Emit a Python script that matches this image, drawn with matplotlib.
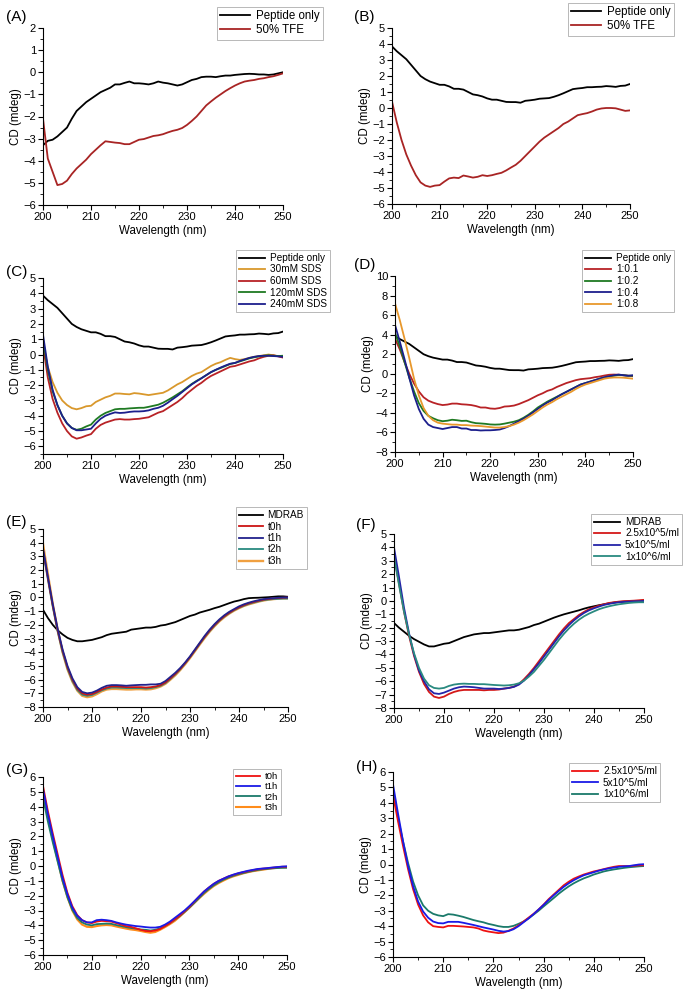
import numpy as np
import matplotlib
matplotlib.use("Agg")
import matplotlib.pyplot as plt
from matplotlib.ticker import MultipleLocator

plt.rcParams['font.family'] = ['Liberation Sans', 'DejaVu Sans']

# wavelength grid (nm), 1 nm steps
wl = np.arange(200, 251)

# ---- panel A ----
a_peptide = [-3.3, -3.1, -3.05, -2.9, -2.7, -2.5, -2.1, -1.75, -1.55, -1.35,
             -1.2, -1.05, -0.9, -0.8, -0.7, -0.55, -0.55, -0.48, -0.42, -0.5,
             -0.5, -0.52, -0.55, -0.5, -0.42, -0.47, -0.5, -0.55, -0.6, -0.55,
             -0.45, -0.35, -0.3, -0.22, -0.2, -0.2, -0.22, -0.18, -0.15, -0.15,
             -0.12, -0.1, -0.08, -0.07, -0.08, -0.1, -0.1, -0.12, -0.1, -0.05,
             0.0]
a_tfe = [-2.1, -3.9, -4.5, -5.1, -5.05, -4.9, -4.6, -4.35, -4.15, -3.95,
         -3.7, -3.5, -3.3, -3.12, -3.15, -3.18, -3.2, -3.25, -3.25, -3.15,
         -3.05, -3.02, -2.95, -2.88, -2.85, -2.8, -2.72, -2.65, -2.6, -2.52,
         -2.38, -2.2, -2.0, -1.75, -1.5, -1.32, -1.15, -1.0, -0.85, -0.72,
         -0.6, -0.5, -0.42, -0.38, -0.35, -0.3, -0.27, -0.22, -0.18, -0.12,
         -0.05]

# ---- peptide only (panels B, C, D) ----
peptide_only = [3.85, 3.55, 3.3, 3.05, 2.7, 2.35, 2.0, 1.8, 1.65, 1.55,
                1.45, 1.45, 1.35, 1.2, 1.2, 1.15, 1.0, 0.85, 0.8, 0.72,
                0.6, 0.52, 0.52, 0.45, 0.38, 0.37, 0.37, 0.33, 0.45, 0.48,
                0.52, 0.58, 0.6, 0.62, 0.7, 0.8, 0.92, 1.05, 1.18, 1.22,
                1.25, 1.3, 1.3, 1.32, 1.33, 1.37, 1.35, 1.32, 1.38, 1.4,
                1.5]
b_tfe = [0.4, -0.9, -2.0, -2.9, -3.6, -4.2, -4.65, -4.85, -4.93, -4.85,
         -4.82, -4.6, -4.4, -4.35, -4.38, -4.22, -4.28, -4.35, -4.3, -4.2,
         -4.25, -4.2, -4.12, -4.05, -3.9, -3.72, -3.55, -3.3, -3.0, -2.7,
         -2.4, -2.1, -1.85, -1.65, -1.45, -1.25, -1.0, -0.85, -0.65, -0.45,
         -0.38, -0.32, -0.22, -0.1, -0.03, 0.0, 0.0, -0.02, -0.1, -0.18,
         -0.15]

# ---- panel C (SDS) ----
sds30 = [0.7, -0.8, -1.8, -2.5, -3.0, -3.3, -3.5, -3.58, -3.5, -3.38,
         -3.35, -3.1, -2.95, -2.8, -2.7, -2.55, -2.55, -2.58, -2.6, -2.52,
         -2.55, -2.6, -2.65, -2.6, -2.55, -2.5, -2.35, -2.15, -1.95, -1.8,
         -1.6, -1.4, -1.25, -1.15, -0.95, -0.75, -0.6, -0.5, -0.35, -0.22,
         -0.3, -0.35, -0.3, -0.22, -0.15, -0.1, -0.05, 0.0, -0.05, -0.1,
         -0.15]
sds60 = [0.6, -1.5, -2.9, -3.8, -4.5, -5.0, -5.35, -5.5, -5.42, -5.3,
         -5.2, -4.85, -4.6, -4.45, -4.35, -4.25, -4.22, -4.25, -4.25, -4.22,
         -4.2, -4.15, -4.1, -3.95, -3.8, -3.7, -3.5, -3.3, -3.1, -2.85,
         -2.55, -2.3, -2.05, -1.85, -1.6, -1.4, -1.25, -1.1, -0.95, -0.8,
         -0.75, -0.65, -0.55, -0.45, -0.38, -0.25, -0.15, -0.08, -0.05, -0.12,
         -0.2]
sds120 = [1.0, -1.0, -2.4, -3.3, -4.0, -4.5, -4.8, -4.92, -4.85, -4.7,
          -4.58, -4.25, -4.0, -3.82, -3.7, -3.58, -3.55, -3.55, -3.52, -3.5,
          -3.48, -3.48, -3.42, -3.35, -3.28, -3.15, -2.98, -2.8, -2.6, -2.4,
          -2.15, -1.92, -1.72, -1.55, -1.35, -1.15, -1.0, -0.88, -0.75, -0.62,
          -0.55, -0.45, -0.35, -0.25, -0.18, -0.12, -0.08, -0.05, -0.08, -0.1,
          -0.08]
sds240 = [1.3, -0.8, -2.3, -3.3, -4.0, -4.5, -4.8, -4.95, -4.95, -4.9,
          -4.85, -4.5, -4.2, -4.0, -3.88, -3.78, -3.82, -3.8, -3.75, -3.72,
          -3.72, -3.7, -3.65, -3.55, -3.48, -3.35, -3.15, -2.92, -2.7, -2.45,
          -2.2, -1.95, -1.75, -1.55, -1.35, -1.15, -1.0, -0.85, -0.72, -0.6,
          -0.55, -0.42, -0.32, -0.22, -0.15, -0.1, -0.08, -0.08, -0.1, -0.12,
          -0.15]

# ---- panel D (ratios) ----
r01 = [3.6, 2.5, 1.2, 0.0, -1.0, -1.8, -2.4, -2.75, -2.95, -3.1,
       -3.2, -3.15, -3.05, -3.05, -3.12, -3.15, -3.2, -3.3, -3.45, -3.45,
       -3.55, -3.58, -3.5, -3.35, -3.32, -3.25, -3.1, -2.9, -2.7, -2.45,
       -2.2, -2.0, -1.75, -1.6, -1.35, -1.15, -0.95, -0.8, -0.65, -0.55,
       -0.5, -0.45, -0.35, -0.28, -0.18, -0.1, -0.08, -0.1, -0.15, -0.2,
       -0.25]
r02 = [4.2, 2.8, 1.2, -0.4, -1.8, -3.0, -3.8, -4.3, -4.55, -4.75,
       -4.85, -4.8, -4.7, -4.75, -4.82, -4.8, -4.95, -5.05, -5.08, -5.12,
       -5.18, -5.2, -5.18, -5.1, -5.0, -4.9, -4.75, -4.5, -4.2, -3.85,
       -3.45, -3.15, -2.85, -2.6, -2.35, -2.1, -1.85, -1.6, -1.35, -1.1,
       -0.95, -0.8, -0.65, -0.5, -0.38, -0.28, -0.2, -0.12, -0.15, -0.2,
       -0.2]
r04 = [5.0, 3.3, 1.5, -0.4, -2.2, -3.6, -4.6, -5.2, -5.45, -5.55,
       -5.65, -5.55, -5.45, -5.45, -5.6, -5.6, -5.75, -5.75, -5.8, -5.78,
       -5.78, -5.75, -5.7, -5.55, -5.35, -5.1, -4.85, -4.6, -4.3, -3.95,
       -3.6, -3.25, -2.95, -2.7, -2.4, -2.1, -1.85, -1.6, -1.35, -1.1,
       -0.95, -0.8, -0.65, -0.5, -0.35, -0.25, -0.15, -0.08, -0.15, -0.2,
       -0.15]
r08 = [7.2, 5.5, 3.6, 1.6, -0.5, -2.2, -3.5, -4.3, -4.75, -5.0,
       -5.1, -5.15, -5.2, -5.2, -5.25, -5.25, -5.3, -5.32, -5.35, -5.4,
       -5.45, -5.5, -5.5, -5.45, -5.35, -5.2, -5.0, -4.75, -4.45, -4.15,
       -3.8, -3.45, -3.15, -2.9, -2.6, -2.35, -2.1, -1.85, -1.55, -1.3,
       -1.1, -0.95, -0.8, -0.65, -0.5, -0.42, -0.38, -0.38, -0.4, -0.45,
       -0.5]

# ---- panel E (MDRAB, time) ----
e_mdrab = [-0.9, -1.5, -2.0, -2.4, -2.7, -2.95, -3.1, -3.2, -3.2, -3.15,
           -3.1, -3.0, -2.9, -2.75, -2.65, -2.6, -2.55, -2.5, -2.35, -2.3,
           -2.25, -2.2, -2.2, -2.15, -2.05, -2.0, -1.9, -1.8, -1.65, -1.5,
           -1.35, -1.25, -1.1, -1.0, -0.9, -0.78, -0.68, -0.55, -0.42, -0.3,
           -0.22, -0.12, -0.05, -0.03, -0.02, 0.0, 0.02, 0.05, 0.08, 0.08,
           0.05]
e_t0 = [3.5, 1.4, -0.6, -2.4, -3.9, -5.1, -6.0, -6.65, -7.0, -7.1,
        -7.05, -6.9, -6.72, -6.58, -6.5, -6.5, -6.52, -6.55, -6.55, -6.55,
        -6.55, -6.58, -6.55, -6.5, -6.4, -6.2, -5.9, -5.58, -5.22, -4.8,
        -4.35, -3.85, -3.35, -2.87, -2.42, -2.02, -1.67, -1.37, -1.12, -0.9,
        -0.72, -0.56, -0.43, -0.33, -0.24, -0.16, -0.11, -0.07, -0.04, -0.02,
        0.0]
e_t1 = [3.6, 1.5, -0.5, -2.3, -3.8, -5.0, -5.9, -6.55, -6.9, -7.0,
        -6.95, -6.8, -6.6, -6.45, -6.4, -6.4, -6.42, -6.45, -6.42, -6.4,
        -6.38, -6.38, -6.35, -6.35, -6.3, -6.1, -5.8, -5.5, -5.15, -4.75,
        -4.3, -3.8, -3.3, -2.8, -2.35, -1.95, -1.6, -1.3, -1.05, -0.85,
        -0.65, -0.5, -0.38, -0.28, -0.2, -0.12, -0.08, -0.05, -0.02, 0.0,
        0.0]
e_t2 = [3.4, 1.3, -0.7, -2.5, -4.0, -5.2, -6.1, -6.75, -7.1, -7.18,
        -7.12, -6.95, -6.78, -6.65, -6.58, -6.58, -6.6, -6.62, -6.62, -6.62,
        -6.62, -6.65, -6.62, -6.55, -6.45, -6.25, -5.95, -5.62, -5.25, -4.82,
        -4.37, -3.88, -3.38, -2.9, -2.46, -2.06, -1.7, -1.4, -1.15, -0.93,
        -0.75, -0.6, -0.47, -0.37, -0.28, -0.2, -0.15, -0.12, -0.1, -0.08,
        -0.08]
e_t3 = [3.9, 1.7, -0.5, -2.4, -4.0, -5.25, -6.15, -6.8, -7.18, -7.28,
        -7.22, -7.05, -6.85, -6.72, -6.68, -6.68, -6.7, -6.72, -6.72, -6.7,
        -6.7, -6.72, -6.7, -6.62, -6.5, -6.3, -6.0, -5.68, -5.3, -4.88,
        -4.42, -3.93, -3.43, -2.95, -2.5, -2.1, -1.74, -1.44, -1.18, -0.96,
        -0.78, -0.62, -0.5, -0.4, -0.3, -0.22, -0.16, -0.12, -0.09, -0.07,
        -0.06]

# ---- panel F (MDRAB, cell density) ----
f_mdrab = [-1.65, -2.0, -2.3, -2.6, -2.85, -3.05, -3.25, -3.4, -3.4, -3.3,
           -3.2, -3.15, -3.0, -2.85, -2.7, -2.6, -2.5, -2.45, -2.4, -2.4,
           -2.35, -2.3, -2.25, -2.2, -2.2, -2.15, -2.05, -1.95, -1.8, -1.7,
           -1.55, -1.4, -1.25, -1.12, -1.0, -0.9, -0.8, -0.7, -0.58, -0.48,
           -0.4, -0.32, -0.25, -0.18, -0.12, -0.08, -0.05, -0.03, -0.02, 0.0,
           0.02]
f_25e5 = [3.4, 1.3, -0.8, -2.6, -4.1, -5.3, -6.2, -6.8, -7.15, -7.25,
          -7.15, -6.95, -6.8, -6.7, -6.65, -6.65, -6.65, -6.65, -6.68, -6.65,
          -6.65, -6.62, -6.55, -6.5, -6.4, -6.2, -5.85, -5.45, -5.0, -4.5,
          -4.0, -3.5, -3.0, -2.5, -2.05, -1.65, -1.35, -1.05, -0.82, -0.62,
          -0.48, -0.35, -0.25, -0.15, -0.1, -0.05, -0.02, 0.0, 0.02, 0.05,
          0.08]
f_5e5 = [4.0, 1.8, -0.5, -2.4, -4.0, -5.2, -6.0, -6.6, -6.9, -6.95,
         -6.85, -6.7, -6.55, -6.45, -6.4, -6.42, -6.45, -6.5, -6.55, -6.55,
         -6.55, -6.58, -6.55, -6.5, -6.42, -6.25, -5.95, -5.55, -5.1, -4.65,
         -4.15, -3.65, -3.15, -2.65, -2.2, -1.8, -1.45, -1.15, -0.9, -0.7,
         -0.55, -0.42, -0.3, -0.22, -0.15, -0.1, -0.07, -0.05, -0.03, -0.02,
         0.0]
f_1e6 = [3.3, 1.2, -0.8, -2.5, -3.9, -5.0, -5.8, -6.3, -6.5, -6.55,
         -6.5, -6.35, -6.25, -6.2, -6.18, -6.2, -6.2, -6.22, -6.22, -6.25,
         -6.28, -6.3, -6.32, -6.3, -6.25, -6.15, -5.95, -5.65, -5.3, -4.85,
         -4.4, -3.9, -3.4, -2.9, -2.45, -2.05, -1.7, -1.4, -1.15, -0.95,
         -0.78, -0.62, -0.5, -0.4, -0.32, -0.25, -0.2, -0.15, -0.12, -0.1,
         -0.1]

# ---- panel G (time) ----
g_t0 = [5.4, 3.7, 2.2, 0.8, -0.6, -1.8, -2.7, -3.3, -3.65, -3.8,
        -3.85, -3.75, -3.7, -3.72, -3.75, -3.85, -3.95, -4.05, -4.1, -4.2,
        -4.3, -4.38, -4.4, -4.35, -4.25, -4.05, -3.85, -3.6, -3.35, -3.05,
        -2.75, -2.4, -2.05, -1.72, -1.45, -1.2, -1.0, -0.85, -0.7, -0.6,
        -0.5, -0.42, -0.35, -0.28, -0.22, -0.18, -0.15, -0.12, -0.08, -0.05,
        -0.05]
g_t1 = [5.2, 3.5, 2.0, 0.6, -0.8, -1.9, -2.8, -3.35, -3.65, -3.8,
        -3.8, -3.65, -3.62, -3.65, -3.7, -3.8, -3.88, -3.95, -4.0, -4.05,
        -4.08, -4.12, -4.15, -4.15, -4.1, -3.95, -3.75, -3.5, -3.25, -3.0,
        -2.7, -2.38, -2.05, -1.72, -1.45, -1.2, -1.0, -0.85, -0.7, -0.58,
        -0.48, -0.4, -0.32, -0.26, -0.2, -0.17, -0.14, -0.1, -0.07, -0.04,
        -0.02]
g_t2 = [4.6, 3.0, 1.6, 0.3, -1.0, -2.1, -2.95, -3.5, -3.8, -3.95,
        -4.0, -3.92, -3.9, -3.88, -3.9, -3.98, -4.05, -4.12, -4.18, -4.22,
        -4.28, -4.3, -4.35, -4.3, -4.2, -4.05, -3.85, -3.62, -3.38, -3.1,
        -2.8, -2.48, -2.15, -1.82, -1.55, -1.3, -1.1, -0.92, -0.78, -0.66,
        -0.56, -0.48, -0.4, -0.33, -0.27, -0.22, -0.19, -0.16, -0.14, -0.12,
        -0.12]
g_t3 = [5.0, 3.3, 1.8, 0.4, -1.0, -2.1, -3.0, -3.6, -3.95, -4.1,
        -4.12, -4.05, -4.0, -3.98, -4.0, -4.08, -4.15, -4.22, -4.28, -4.32,
        -4.38, -4.45, -4.5, -4.45, -4.3, -4.12, -3.92, -3.7, -3.42, -3.12,
        -2.82, -2.5, -2.18, -1.88, -1.6, -1.35, -1.15, -0.98, -0.82, -0.7,
        -0.6, -0.5, -0.42, -0.35, -0.3, -0.25, -0.2, -0.15, -0.12, -0.1,
        -0.08]

# ---- panel H (cell density) ----
h_25e5 = [4.5, 2.8, 1.2, -0.3, -1.6, -2.6, -3.3, -3.75, -4.0, -4.05,
          -4.08, -3.98, -3.98, -4.0, -4.02, -4.05, -4.08, -4.15, -4.28, -4.35,
          -4.4, -4.45, -4.42, -4.3, -4.15, -3.95, -3.7, -3.45, -3.2, -2.92,
          -2.6, -2.25, -1.95, -1.65, -1.35, -1.12, -0.92, -0.78, -0.65, -0.55,
          -0.45, -0.38, -0.3, -0.22, -0.15, -0.1, -0.1, -0.1, -0.08, -0.05,
          -0.05]
h_5e5 = [5.2, 3.3, 1.5, -0.1, -1.4, -2.4, -3.05, -3.45, -3.7, -3.8,
         -3.82, -3.72, -3.72, -3.72, -3.78, -3.85, -3.92, -4.0, -4.08, -4.15,
         -4.22, -4.3, -4.35, -4.32, -4.2, -4.0, -3.75, -3.5, -3.22, -2.92,
         -2.62, -2.3, -2.0, -1.72, -1.45, -1.22, -1.02, -0.85, -0.7, -0.6,
         -0.5, -0.4, -0.32, -0.25, -0.2, -0.15, -0.12, -0.1, -0.05, 0.0,
         0.02]
h_1e6 = [4.7, 3.0, 1.5, 0.1, -1.1, -2.0, -2.65, -3.0, -3.2, -3.3,
         -3.35, -3.22, -3.25, -3.32, -3.4, -3.5, -3.6, -3.68, -3.75, -3.85,
         -3.92, -4.0, -4.05, -4.05, -3.98, -3.85, -3.7, -3.5, -3.25, -3.0,
         -2.72, -2.45, -2.18, -1.9, -1.65, -1.42, -1.22, -1.05, -0.9, -0.78,
         -0.65, -0.55, -0.45, -0.38, -0.32, -0.27, -0.22, -0.18, -0.15, -0.12,
         -0.1]

W, H = 685, 994
fig = plt.figure(figsize=(W / 100, H / 100), dpi=100)


def make_axes(left, right, top, bottom, ylim, ymajor, label, lx, ly):
    ax = fig.add_axes([left / W, 1 - bottom / H, (right - left) / W, (bottom - top) / H])
    ax.set_xlim(200, 250)
    ax.set_ylim(*ylim)
    ax.xaxis.set_major_locator(MultipleLocator(10))
    ax.xaxis.set_minor_locator(MultipleLocator(5))
    ax.yaxis.set_major_locator(MultipleLocator(ymajor))
    ax.yaxis.set_minor_locator(MultipleLocator(ymajor / 2))
    ax.spines['top'].set_visible(False)
    ax.spines['right'].set_visible(False)
    for s in ('left', 'bottom'):
        ax.spines[s].set_linewidth(0.8)
    ax.tick_params(which='major', length=3.5, width=0.8, labelsize=8, pad=1.5)
    ax.tick_params(which='minor', length=2, width=0.6)
    ax.set_xlabel('Wavelength (nm)', fontsize=8.3, labelpad=2)
    ax.set_ylabel('CD (mdeg)', fontsize=8.3, labelpad=1)
    fig.text(lx / W, 1 - ly / H, label, fontsize=11, va='center', ha='left')
    return ax


def add_legend(ax, right, top, fs, handles=None, labels=None, hl=2.6):
    if handles is None:
        handles, labels = ax.get_legend_handles_labels()
    leg = ax.legend(handles, labels, loc='upper right',
                    bbox_to_anchor=(right / W, 1 - top / H),
                    bbox_transform=fig.transFigure, fontsize=fs, frameon=True,
                    fancybox=False, borderaxespad=0, handlelength=hl,
                    handletextpad=0.5, labelspacing=0.15, borderpad=0.3)
    leg.get_frame().set_edgecolor('#999999')
    leg.get_frame().set_linewidth(0.6)
    return leg


lw = 1.3
dark_red = '#a82424'

# (A)
ax = make_axes(43, 283, 28, 205, (-6, 2), 1, '(A)', 6, 17)
ax.plot(wl, a_peptide, color='black', lw=lw, label='Peptide only')
ax.plot(wl, a_tfe, color=dark_red, lw=lw, label='50% TFE')
add_legend(ax, 323, 7, 8.3)

# (B)
ax = make_axes(392, 630, 28, 204, (-6, 5), 1, '(B)', 354, 17)
ax.plot(wl, peptide_only, color='black', lw=lw, label='Peptide only')
ax.plot(wl, b_tfe, color=dark_red, lw=lw, label='50% TFE')
add_legend(ax, 674, 3, 8.3)

# (C)
ax = make_axes(43, 283, 278, 454, (-6.5, 5), 1, '(C)', 6, 272)
ax.plot(wl, peptide_only, color='black', lw=lw, label='Peptide only')
ax.plot(wl, sds30, color='#d9982c', lw=lw, label='30mM SDS')
ax.plot(wl, sds60, color='#b82226', lw=lw, label='60mM SDS')
ax.plot(wl, sds120, color='#1f7a22', lw=lw, label='120mM SDS')
ax.plot(wl, sds240, color='#1c1f8c', lw=lw, label='240mM SDS')
add_legend(ax, 330, 250, 7.2)

# (D)
ax = make_axes(395, 633, 276, 452, (-8, 10), 2, '(D)', 354, 265)
ax.plot(wl, peptide_only, color='black', lw=lw, label='Peptide only')
ax.plot(wl, r01, color='#b82226', lw=lw, label='1:0.1')
ax.plot(wl, r02, color='#1f7a22', lw=lw, label='1:0.2')
ax.plot(wl, r04, color='#1c1f8c', lw=lw, label='1:0.4')
ax.plot(wl, r08, color='#e8982c', lw=lw, label='1:0.8')
add_legend(ax, 674, 250, 7.2)

# (E)
ax = make_axes(43, 288, 529, 707, (-8, 5), 1, '(E)', 6, 522)
l_md, = ax.plot(wl, e_mdrab, color='black', lw=lw)
l3, = ax.plot(wl, e_t3, color='#f0a040', lw=1.7)
l2, = ax.plot(wl, e_t2, color='#2a8a80', lw=lw)
l0, = ax.plot(wl, e_t0, color='#cc1414', lw=lw)
l1, = ax.plot(wl, e_t1, color='#22228c', lw=lw)
add_legend(ax, 307, 507, 7.2, [l_md, l0, l1, l2, l3],
           ['MDRAB', 't0h', 't1h', 't2h', 't3h'], hl=2.4)

# (F)
ax = make_axes(394, 644, 534, 708, (-8, 5), 1, '(F)', 356, 525)
ax.plot(wl, f_mdrab, color='black', lw=lw, label='MDRAB')
ax.plot(wl, f_25e5, color='#d41818', lw=lw, label='2.5x10^5/ml')
ax.plot(wl, f_5e5, color='#2424a8', lw=lw, label='5x10^5/ml')
ax.plot(wl, f_1e6, color='#2a8a80', lw=lw, label='1x10^6/ml')
add_legend(ax, 682, 514, 7.2)

# (G)
ax = make_axes(43, 287, 777, 955, (-6, 6), 1, '(G)', 6, 770)
l3, = ax.plot(wl, g_t3, color='#ff8c1a', lw=1.5)
l2, = ax.plot(wl, g_t2, color='#1a7a6a', lw=lw)
l0, = ax.plot(wl, g_t0, color='#ee1111', lw=lw)
l1, = ax.plot(wl, g_t1, color='#1a1ae6', lw=lw)
add_legend(ax, 281, 769, 6.8, [l0, l1, l2, l3], ['t0h', 't1h', 't2h', 't3h'], hl=2.6)

# (H)
ax = make_axes(393, 644, 772, 957, (-6, 6), 1, '(H)', 356, 767)
l6, = ax.plot(wl, h_1e6, color='#1a7a6a', lw=lw)
l25, = ax.plot(wl, h_25e5, color='#ee1111', lw=lw)
l5, = ax.plot(wl, h_5e5, color='#1a1ae6', lw=lw)
add_legend(ax, 660, 763, 7.2, [l25, l5, l6], ['2.5x10^5/ml', '5x10^5/ml', '1x10^6/ml'])

fig.savefig('out.png', dpi=100)
